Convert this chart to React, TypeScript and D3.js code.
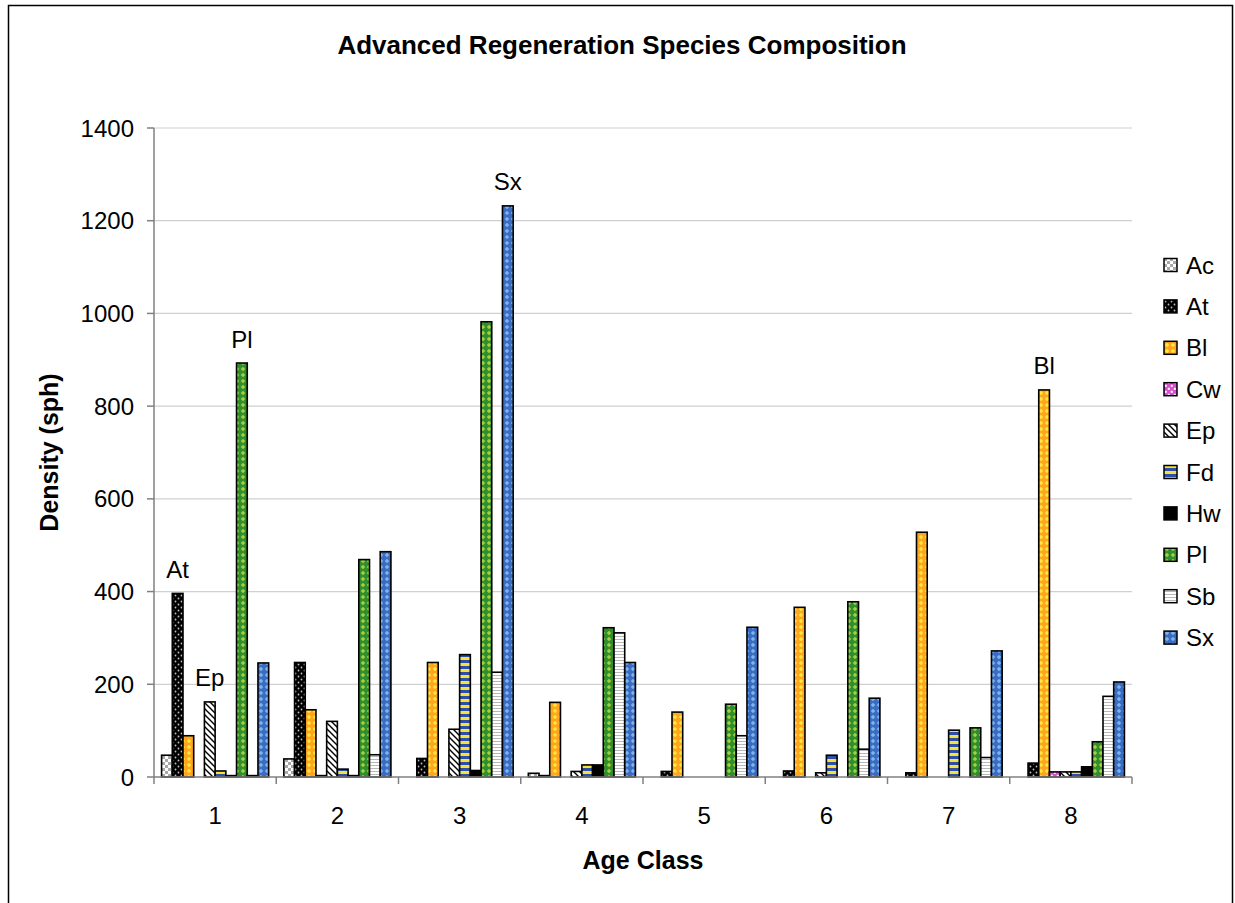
import React from "react";
import * as d3 from "d3";

const categories = ["1", "2", "3", "4", "5", "6", "7", "8"];
const species = ["Ac", "At", "Bl", "Cw", "Ep", "Fd", "Hw", "Pl", "Sb", "Sx"];
const acValues = [47, 39, 0, 8, 0, 0, 0, 0];
const atValues = [396, 247, 40, 3, 12, 13, 9, 30];
const blValues = [89, 145, 247, 161, 140, 366, 528, 835];
const cwValues = [0, 3, 0, 0, 0, 0, 0, 11];
const epValues = [162, 120, 103, 12, 0, 9, 0, 11];
const fdValues = [13, 17, 264, 26, 0, 47, 101, 11];
const hwValues = [3, 3, 14, 26, 0, 0, 0, 22];
const plValues = [893, 469, 982, 322, 157, 378, 106, 76];
const sbValues = [3, 48, 226, 311, 89, 60, 42, 174];
const sxValues = [246, 486, 1232, 247, 323, 170, 272, 205];
const yTicks = [0, 200, 400, 600, 800, 1000, 1200, 1400];
// data labels: [species, category]
const dataLabels: [string, string][] = [
  ["At", "1"],
  ["Ep", "1"],
  ["Pl", "1"],
  ["Sx", "3"],
  ["Bl", "8"],
];

const seriesValues: Record<string, number[]> = {
  Ac: acValues,
  At: atValues,
  Bl: blValues,
  Cw: cwValues,
  Ep: epValues,
  Fd: fdValues,
  Hw: hwValues,
  Pl: plValues,
  Sb: sbValues,
  Sx: sxValues,
};

const FONT = "'Liberation Sans', Arial, Helvetica, sans-serif";

function Patterns() {
  return (
    <defs>
      <pattern id="p-Ac" width="6" height="6" patternUnits="userSpaceOnUse">
        <rect width="6" height="6" fill="#ffffff" />
        <rect x="0" y="0" width="3" height="3" fill="#a8a8a8" />
        <rect x="3" y="3" width="3" height="3" fill="#a8a8a8" />
      </pattern>
      <pattern id="p-At" width="6" height="6" patternUnits="userSpaceOnUse">
        <rect width="6" height="6" fill="#000000" />
        <circle cx="1.5" cy="1.5" r="0.9" fill="#bdbdbd" />
        <circle cx="4.5" cy="4.5" r="0.9" fill="#bdbdbd" />
      </pattern>
      <pattern id="p-Bl" width="6" height="6" patternUnits="userSpaceOnUse">
        <rect width="6" height="6" fill="#ffa51f" />
        <polygon points="3,0.8 5.2,3 3,5.2 0.8,3" fill="#ffe83a" />
      </pattern>
      <pattern id="p-Cw" width="6" height="6" patternUnits="userSpaceOnUse">
        <rect width="6" height="6" fill="#d84fcf" />
        <rect x="0.8" y="0.8" width="2" height="2" fill="#ffffff" />
        <rect x="3.8" y="3.8" width="2" height="2" fill="#ffffff" />
      </pattern>
      <pattern id="p-Ep" width="6" height="6" patternUnits="userSpaceOnUse">
        <rect width="6" height="6" fill="#ffffff" />
        <path d="M-1,-1 L7,7 M-1,5 L1,7 M5,-1 L7,1" stroke="#000" strokeWidth="1.4" />
      </pattern>
      <pattern id="p-Fd" width="6" height="6" patternUnits="userSpaceOnUse">
        <rect width="6" height="6" fill="#2f4fa6" />
        <rect x="0" y="3" width="6" height="3" fill="#f4e33a" />
      </pattern>
      <pattern id="p-Pl" width="6" height="6" patternUnits="userSpaceOnUse">
        <rect width="6" height="6" fill="#2f8f2f" />
        <polygon points="3,0.8 5.2,3 3,5.2 0.8,3" fill="#a6cf3a" />
      </pattern>
      <pattern id="p-Sb" width="4" height="3" patternUnits="userSpaceOnUse">
        <rect width="4" height="3" fill="#ffffff" />
        <rect x="0" y="0" width="4" height="1" fill="#b8b8b8" />
      </pattern>
      <pattern id="p-Sx" width="6" height="6" patternUnits="userSpaceOnUse">
        <rect width="6" height="6" fill="#3b6cc4" />
        <polygon points="3,0.8 5.2,3 3,5.2 0.8,3" fill="#7fb4e6" />
      </pattern>
    </defs>
  );
}

function fillFor(s: string) {
  return s === "Hw" ? "#000000" : `url(#p-${s})`;
}

export default function App() {
  const W = 1235;
  const H = 903;
  const left = 154;
  const right = 1132;
  const top = 128;
  const bottom = 777;

  const x0 = d3.scaleBand<string>().domain(categories).range([left, right]).padding(0);
  const bw = x0.bandwidth();
  const gap = bw * 0.062;
  const x1 = d3.scaleBand<string>().domain(species).range([gap, bw - gap]).padding(0);
  const y = d3.scaleLinear().domain([0, 1400]).range([bottom, top]);

  const legendX = 1164;
  const legendY0 = 265;
  const legendStep = 41.4;

  return (
    <svg
      width={W}
      height={H}
      style={{ position: "absolute", left: 0, top: 0, display: "block", background: "#fff" }}
      fontFamily={FONT}
    >
      <Patterns />
      <rect x={0} y={0} width={W} height={H} fill="#ffffff" />
      <rect x={8.5} y={5.5} width={1224} height={920} fill="none" stroke="#000" strokeWidth={1.5} />

      {/* title */}
      <text x={622} y={45} textAnchor="middle" dominantBaseline="central" fontSize={26} fontWeight="bold">
        Advanced Regeneration Species Composition
      </text>

      {/* gridlines */}
      {yTicks
        .filter((t) => t > 0)
        .map((t) => (
          <line key={"g" + t} x1={left} x2={right} y1={y(t)} y2={y(t)} stroke="#d0d0d0" strokeWidth={1.2} />
        ))}

      {/* bars */}
      {categories.map((c, ci) =>
        species.map((s) => {
          const v = seriesValues[s][ci];
          if (!v) return null;
          const bx = (x0(c) as number) + (x1(s) as number);
          return (
            <rect
              key={c + s}
              x={bx}
              y={y(v)}
              width={x1.bandwidth()}
              height={bottom - y(v)}
              fill={fillFor(s)}
              stroke="#000"
              strokeWidth={1.6}
            />
          );
        })
      )}

      {/* y axis */}
      <line x1={left} x2={left} y1={top} y2={bottom} stroke="#808080" strokeWidth={1.5} />
      {yTicks.map((t) => (
        <g key={"yt" + t}>
          <line x1={left - 7} x2={left} y1={y(t)} y2={y(t)} stroke="#808080" strokeWidth={1.5} />
          <text x={134} y={y(t)} textAnchor="end" dominantBaseline="central" fontSize={24}>
            {t}
          </text>
        </g>
      ))}

      {/* x axis */}
      <line x1={left} x2={right} y1={bottom} y2={bottom} stroke="#808080" strokeWidth={1.5} />
      {[...categories.map((c) => x0(c) as number), right].map((xx, i) => (
        <line key={"xt" + i} x1={xx} x2={xx} y1={bottom} y2={bottom + 7} stroke="#808080" strokeWidth={1.5} />
      ))}
      {categories.map((c) => (
        <text
          key={"xl" + c}
          x={(x0(c) as number) + bw / 2}
          y={815}
          textAnchor="middle"
          dominantBaseline="central"
          fontSize={24}
        >
          {c}
        </text>
      ))}

      {/* data labels */}
      {dataLabels.map(([s, c]) => {
        const ci = categories.indexOf(c);
        const v = seriesValues[s][ci];
        const cx = (x0(c) as number) + (x1(s) as number) + x1.bandwidth() / 2;
        return (
          <text key={"dl" + s + c} x={cx} y={y(v) - 24} textAnchor="middle" dominantBaseline="central" fontSize={24}>
            {s}
          </text>
        );
      })}

      {/* axis titles */}
      <text x={643} y={860} textAnchor="middle" dominantBaseline="central" fontSize={25} fontWeight="bold">
        Age Class
      </text>
      <text
        transform={`translate(49, ${(top + bottom) / 2}) rotate(-90)`}
        textAnchor="middle"
        dominantBaseline="central"
        fontSize={25}
        fontWeight="bold"
      >
        Density (sph)
      </text>

      {/* legend */}
      {species.map((s, i) => {
        const ly = legendY0 + i * legendStep;
        return (
          <g key={"lg" + s}>
            <rect x={legendX} y={ly - 6.5} width={13} height={13} fill={fillFor(s)} stroke="#000" strokeWidth={1.5} />
            <text x={legendX + 22} y={ly} dominantBaseline="central" fontSize={24}>
              {s}
            </text>
          </g>
        );
      })}
    </svg>
  );
}
